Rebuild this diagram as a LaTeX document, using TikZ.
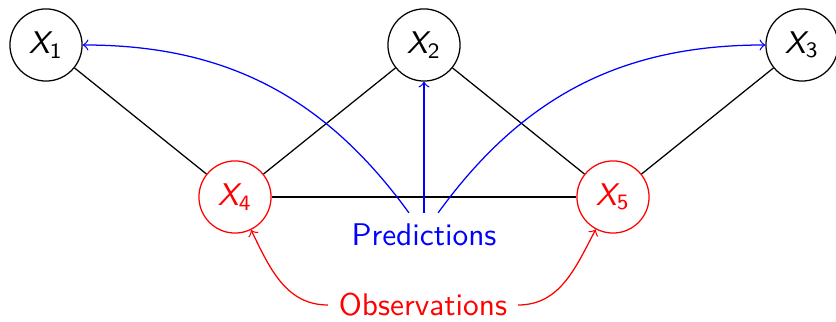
\documentclass[tikz,border=0pt]{standalone}
\usetikzlibrary{positioning}
\renewcommand{\familydefault}{\sfdefault}
\newcommand{\varX}[1]{$\mbox{\itshape X}_{\mbox{\scriptsize #1}}$}

\begin{document}
\begin{tikzpicture}[x=0.319pt,y=-0.319pt,font=\sffamily,
  var/.style={draw,circle,minimum size=23pt,inner sep=0pt},
  obsvar/.style={var,draw=red,text=red}]
\useasboundingbox (0,0) rectangle (836,322);
% variables
\node[var] (x1) at (46,45) {\varX{1}};
\node[var] (x2) at (424,45) {\varX{2}};
\node[var] (x3) at (802,45) {\varX{3}};
\node[obsvar] (x4) at (235,197) {\varX{4}};
\node[obsvar] (x5) at (613,197) {\varX{5}};
% labels
\node[text=blue] (pred) at (424,235) {Predictions};
\node[text=red] (obs) at (423,305) {Observations};
% edges
\draw (x1) -- (x4) -- (x2) -- (x5) -- (x3);
\draw (x4) -- (x5);
\draw[->,blue] (pred.north) -- (x2);
\draw[->,blue] ([xshift=-4.8pt]pred.north) to[out=126,in=0] (x1);
\draw[->,blue] ([xshift=4.5pt]pred.north) to[out=54,in=180] (x3);
\draw[->,red] (obs.west) to[out=180,in=-64] (x4);
\draw[->,red] (obs.east) to[out=0,in=-118] (x5);
\end{tikzpicture}
\end{document}
